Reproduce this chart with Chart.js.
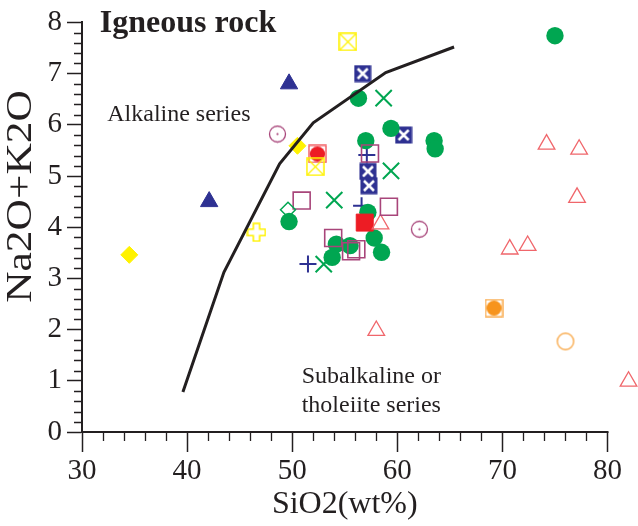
<!DOCTYPE html>
<html>
<head>
<meta charset="utf-8">
<title>Igneous rock TAS</title>
<script src="https://cdn.jsdelivr.net/npm/chart.js@4.4.0/dist/chart.umd.min.js"></script>
<style>
  html, body { margin: 0; padding: 0; background: #fff; }
  #wrap { width: 638px; height: 526px; position: relative; }
</style>
</head>
<body>
<div id="wrap"><canvas id="tas"></canvas></div>
<script>
// ---- DATA (SiO2 wt% vs Na2O+K2O) ----
const xTicks = [30, 40, 50, 60, 70, 80];
const yTicks = [0, 1, 2, 3, 4, 5, 6, 7, 8];
const X_VIEW_MAX = 82.9; // a few samples sit right of the 80 tick

// alkaline / subalkaline dividing line
const lineSiO2 = [39.6, 43.5, 48.8, 52.0, 58.9, 65.4];
const lineAlk  = [0.78, 3.12, 5.24, 6.04, 7.02, 7.52];

const greenDotSiO2 = [75.0, 56.3, 59.4, 57.0, 63.5, 63.6, 49.7, 57.2, 54.2, 55.5, 57.8, 58.5, 53.8];
const greenDotAlk  = [7.74, 6.52, 5.93, 5.69, 5.69, 5.53, 4.11, 4.29, 3.67, 3.64, 3.79, 3.51, 3.41];

const greenXSiO2 = [58.7, 59.4, 54.0, 53.0];
const greenXAlk  = [6.52, 5.10, 4.53, 3.28];

const navyTriSiO2 = [49.7, 42.1];
const navyTriAlk  = [6.80, 4.50];

const navyBoxSiO2 = [56.7, 60.6, 57.2, 57.3];
const navyBoxAlk  = [7.00, 5.80, 5.09, 4.81];

const navyPlusSiO2 = [57.1, 56.6, 51.5];
const navyPlusAlk  = [5.41, 4.42, 3.28];

const purpleBoxSiO2 = [57.4, 50.9, 59.2, 53.9, 55.6, 56.1];
const purpleBoxAlk  = [5.44, 4.52, 4.40, 3.79, 3.53, 3.57];

const purpleRingSiO2 = [48.6, 62.1];
const purpleRingAlk  = [5.82, 3.96];

const redDotBoxSiO2 = [52.4];
const redDotBoxAlk  = [5.43];

const redBoxSiO2 = [56.9];
const redBoxAlk  = [4.09];

const redTriSiO2 = [58.4, 58.0, 74.2, 77.3, 77.1, 70.7, 72.4, 82.0];
const redTriAlk  = [4.06, 1.98, 5.62, 5.52, 4.58, 3.57, 3.64, 0.99];

const yellowDiamondSiO2 = [34.5, 50.5];
const yellowDiamondAlk  = [3.46, 5.59];

const yellowBoxSiO2 = [55.3, 52.2];
const yellowBoxAlk  = [7.62, 5.18];

const yellowPlusSiO2 = [46.6];
const yellowPlusAlk  = [3.90];

const greenDiamondSiO2 = [49.6];
const greenDiamondAlk  = [4.34];

const orangeDotBoxSiO2 = [69.2];
const orangeDotBoxAlk  = [2.42];

const orangeRingSiO2 = [76.0];
const orangeRingAlk  = [1.77];

// ---- STYLE ----
const INK = '#231f20';
const SERIF = "'Liberation Serif', 'Times New Roman', serif";
const GREEN = '#00a651';
const NAVY = '#2e3192';
const PURPLE = '#a8457a';
const RED = '#ed1c24';
const PINK = '#f0666b';
const YELLOW = '#fff200';
const ORANGE = '#f7941d';
const ORANGE_LIGHT = '#f9ab4e';

const pts = (xs, ys) => xs.map((x, i) => ({ x, y: ys[i] }));

// small canvas markers for the composite symbols
function marker(size, draw) {
    const c = document.createElement('canvas');
    c.width = size; c.height = size;
    draw(c.getContext('2d'), size / 2);
    return c;
}

const navyBoxX = marker(18, (g, m) => {
    g.fillStyle = NAVY;
    g.fillRect(0.5, 0.5, 17, 17);
    g.strokeStyle = '#fff';
    g.lineWidth = 2.6;
    g.beginPath();
    g.moveTo(4, 4); g.lineTo(14, 14);
    g.moveTo(14, 4); g.lineTo(4, 14);
    g.stroke();
});

const yellowBoxX = marker(19, (g, m) => {
    g.strokeStyle = YELLOW;
    g.lineWidth = 1.5;
    g.strokeRect(1, 1, 17, 17);
    g.lineWidth = 1.2;
    g.beginPath();
    g.moveTo(1.5, 1.5); g.lineTo(17.5, 17.5);
    g.moveTo(17.5, 1.5); g.lineTo(1.5, 17.5);
    g.stroke();
});

function dotBox(color, ring) {
    return marker(19, (g, m) => {
        g.strokeStyle = ring;
        g.lineWidth = 1.4;
        g.strokeRect(1, 1, 17, 17);
        g.fillStyle = color;
        g.beginPath();
        g.arc(m, m, 7.6, 0, Math.PI * 2);
        g.fill();
    });
}

const purpleRing = marker(19, (g, m) => {
    g.strokeStyle = PURPLE;
    g.lineWidth = 1.3;
    g.beginPath();
    g.arc(m, m, 8, 0, Math.PI * 2);
    g.stroke();
    g.fillStyle = PURPLE;
    g.beginPath();
    g.arc(m, m, 1.1, 0, Math.PI * 2);
    g.fill();
});

const yellowPlus = marker(20, (g, m) => {
    const a = 3.2, b = 8.8;
    g.strokeStyle = YELLOW;
    g.lineWidth = 1.6;
    g.beginPath();
    g.moveTo(m - a, m - b); g.lineTo(m + a, m - b); g.lineTo(m + a, m - a);
    g.lineTo(m + b, m - a); g.lineTo(m + b, m + a); g.lineTo(m + a, m + a);
    g.lineTo(m + a, m + b); g.lineTo(m - a, m + b); g.lineTo(m - a, m + a);
    g.lineTo(m - b, m + a); g.lineTo(m - b, m - a); g.lineTo(m - a, m - a);
    g.closePath();
    g.stroke();
});

const orangeRing = marker(20, (g, m) => {
    g.strokeStyle = ORANGE_LIGHT;
    g.lineWidth = 1.4;
    g.beginPath();
    g.arc(m, m, 8.2, 0, Math.PI * 2);
    g.stroke();
});

function series(label, xs, ys, style) {
    return Object.assign({ label, data: pts(xs, ys), clip: false, showLine: false }, style);
}

const datasets = [
    {
        label: 'divide', data: pts(lineSiO2, lineAlk), showLine: true,
        borderColor: INK, borderWidth: 3, pointRadius: 0, fill: false, tension: 0
    },
    series('yellow diamond', yellowDiamondSiO2, yellowDiamondAlk,
        { pointStyle: 'rectRot', pointRadius: 8.5, backgroundColor: YELLOW, borderColor: YELLOW, borderWidth: 1 }),
    series('yellow box', yellowBoxSiO2, yellowBoxAlk, { pointStyle: yellowBoxX }),
    series('yellow plus', yellowPlusSiO2, yellowPlusAlk, { pointStyle: yellowPlus }),
    series('green diamond', greenDiamondSiO2, greenDiamondAlk,
        { pointStyle: 'rectRot', pointRadius: 7.5, backgroundColor: 'rgba(0,0,0,0)', borderColor: GREEN, borderWidth: 1.5 }),
    series('purple box', purpleBoxSiO2, purpleBoxAlk,
        { pointStyle: 'rect', pointRadius: 12, backgroundColor: 'rgba(0,0,0,0)', borderColor: PURPLE, borderWidth: 1.6 }),
    series('purple ring', purpleRingSiO2, purpleRingAlk, { pointStyle: purpleRing }),
    series('red triangle', redTriSiO2, redTriAlk,
        { pointStyle: 'triangle', pointRadius: 9.6, backgroundColor: 'rgba(0,0,0,0)', borderColor: PINK, borderWidth: 1.3 }),
    series('red box', redBoxSiO2, redBoxAlk,
        { pointStyle: 'rect', pointRadius: 12, backgroundColor: RED, borderColor: RED, borderWidth: 1 }),
    series('green dot', greenDotSiO2, greenDotAlk,
        { pointStyle: 'circle', pointRadius: 8.7, backgroundColor: GREEN, borderColor: GREEN, borderWidth: 0 }),
    series('green x', greenXSiO2, greenXAlk,
        { pointStyle: 'crossRot', pointRadius: 11.5, borderColor: GREEN, borderWidth: 2 }),
    series('red dot box', redDotBoxSiO2, redDotBoxAlk, { pointStyle: dotBox(RED, '#f15a5f') }),
    series('navy triangle', navyTriSiO2, navyTriAlk,
        { pointStyle: 'triangle', pointRadius: 10, backgroundColor: NAVY, borderColor: NAVY, borderWidth: 1 }),
    series('navy box', navyBoxSiO2, navyBoxAlk, { pointStyle: navyBoxX }),
    series('navy plus', navyPlusSiO2, navyPlusAlk,
        { pointStyle: 'cross', pointRadius: 8.5, borderColor: NAVY, borderWidth: 2 }),
    series('orange dot box', orangeDotBoxSiO2, orangeDotBoxAlk, { pointStyle: dotBox(ORANGE, ORANGE_LIGHT) }),
    series('orange ring', orangeRingSiO2, orangeRingAlk, { pointStyle: orangeRing })
];

// ---- TEXT INSIDE THE PLOT (anchored in data units) ----
const notes = [
    { text: 'Igneous rock', x: 31.7, y: 7.81, font: 'bold 32px ' + SERIF },
    { text: 'Alkaline series', x: 32.4, y: 6.08, font: '24px ' + SERIF },
    { text: 'Subalkaline or', x: 50.9, y: 0.95, font: '24px ' + SERIF },
    { text: 'tholeiite series', x: 50.9, y: 0.40, font: '24px ' + SERIF }
];
const yTitle = { text: 'Na2O+K2O', at: 4.6, font: '35px ' + SERIF, stretch: 1.24 };
const xTitle = { text: 'SiO2(wt%)', font: '32px ' + SERIF, fromBottom: 21 };

const X_MINOR = 2;
const Y_MINOR = 0.2;

const extrasPlugin = {
    id: 'extras',
    afterDraw(chart) {
        const { ctx, scales: { x, y } } = chart;
        const x0 = x.getPixelForValue(xTicks[0]);
        const x1 = x.getPixelForValue(xTicks[xTicks.length - 1]);
        const axisY = Math.round(x.top) ;
        ctx.save();
        // x axis line (stops at the last tick)
        ctx.strokeStyle = INK;
        ctx.lineWidth = 2;
        ctx.beginPath();
        ctx.moveTo(x0 - 1, axisY);
        ctx.lineTo(x1 + 1, axisY);
        ctx.stroke();
        // minor ticks
        ctx.lineWidth = 1.3;
        ctx.beginPath();
        const nx = Math.round((x1 - x0) / (x.getPixelForValue(xTicks[0] + X_MINOR) - x0));
        for (let i = 0; i <= nx; i++) {
            if (i % 5 === 0) continue;
            const px = Math.round(x.getPixelForValue(xTicks[0] + i * X_MINOR)) + 0.5;
            ctx.moveTo(px, axisY);
            ctx.lineTo(px, axisY + 9);
        }
        const ny = Math.round((y.max - y.min) / Y_MINOR);
        for (let i = 0; i <= ny; i++) {
            if (i % 5 === 0) continue;
            const py = Math.round(y.getPixelForValue(y.min + i * Y_MINOR)) + 0.5;
            ctx.moveTo(y.right, py);
            ctx.lineTo(y.right - 8, py);
        }
        ctx.stroke();
        // labels
        ctx.fillStyle = INK;
        ctx.textAlign = 'left';
        ctx.textBaseline = 'alphabetic';
        notes.forEach(n => {
            ctx.font = n.font;
            ctx.fillText(n.text, x.getPixelForValue(n.x), y.getPixelForValue(n.y));
        });
        // x axis title, centred under the 30-80 span
        ctx.font = xTitle.font;
        ctx.textAlign = 'center';
        ctx.textBaseline = 'middle';
        ctx.fillText(xTitle.text, (x0 + x1) / 2, x.bottom - xTitle.fromBottom);
        // y axis title, drawn tall like the original
        ctx.translate(y.left + 21.5, y.getPixelForValue(yTitle.at));
        ctx.rotate(-Math.PI / 2);
        ctx.scale(yTitle.stretch, 1);
        ctx.font = yTitle.font;
        ctx.fillText(yTitle.text, 0, 0);
        ctx.restore();
    }
};

const tickFont = { family: SERIF, size: 29, lineHeight: 1.2 };

new Chart(document.getElementById('tas'), {
    type: 'scatter',
    data: { datasets },
    options: {
        responsive: true,
        maintainAspectRatio: false,
        animation: false,
        layout: { autoPadding: false, padding: { top: 21, right: 0, left: 0, bottom: 0 } },
        plugins: {
            legend: { display: false },
            tooltip: { enabled: false }
        },
        elements: { point: { hoverRadius: 0 } },
        scales: {
            x: {
                type: 'linear',
                min: xTicks[0],
                max: X_VIEW_MAX,
                afterBuildTicks: s => { s.ticks = xTicks.map(v => ({ value: v })); },
                afterFit: s => { s.height = 94; s.paddingRight = 0; s.paddingLeft = 0; },
                grid: {
                    drawOnChartArea: false, drawTicks: true, tickLength: 20,
                    tickColor: INK, tickWidth: 1.5
                },
                border: { display: false },
                ticks: { font: tickFont, color: INK, padding: 2, maxRotation: 0 },
                title: { display: false }
            },
            y: {
                type: 'linear',
                min: yTicks[0],
                max: yTicks[yTicks.length - 1],
                afterBuildTicks: s => { s.ticks = yTicks.map(v => ({ value: v })); },
                afterFit: s => { s.width = 82; },
                grid: {
                    drawOnChartArea: false, drawTicks: true, tickLength: 15,
                    tickColor: INK, tickWidth: 1.5
                },
                border: { display: true, color: INK, width: 2 },
                ticks: { font: tickFont, color: INK, padding: 5 },
                title: { display: false }
            }
        }
    },
    plugins: [extrasPlugin]
});
</script>
</body>
</html>
